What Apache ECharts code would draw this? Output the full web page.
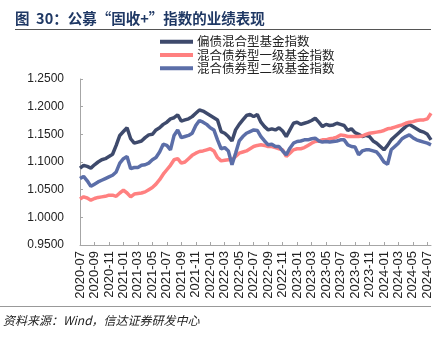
<!DOCTYPE html>
<html>
<head>
<meta charset="utf-8">
<script src="https://cdn.jsdelivr.net/npm/echarts@6/dist/echarts.min.js"></script>
<style>
html,body{margin:0;padding:0;background:#fff;}
#c{width:447px;height:337px;}
</style>
</head>
<body>
<div id="c"></div>
<script>
// Half-monthly observation dates (category axis)
const categories = [
"2020-07-01","2020-07-16","2020-08-01","2020-08-16","2020-09-01","2020-09-16","2020-10-01","2020-10-16",
"2020-11-01","2020-11-16","2020-12-01","2020-12-16","2021-01-01","2021-01-16","2021-02-01","2021-02-16",
"2021-03-01","2021-03-16","2021-04-01","2021-04-16","2021-05-01","2021-05-16","2021-06-01","2021-06-16",
"2021-07-01","2021-07-16","2021-08-01","2021-08-16","2021-09-01","2021-09-16","2021-10-01","2021-10-16",
"2021-11-01","2021-11-16","2021-12-01","2021-12-16","2022-01-01","2022-01-16","2022-02-01","2022-02-16",
"2022-03-01","2022-03-16","2022-04-01","2022-04-16","2022-05-01","2022-05-16","2022-06-01","2022-06-16",
"2022-07-01","2022-07-16","2022-08-01","2022-08-16","2022-09-01","2022-09-16","2022-10-01","2022-10-16",
"2022-11-01","2022-11-16","2022-12-01","2022-12-16","2023-01-01","2023-01-16","2023-02-01","2023-02-16",
"2023-03-01","2023-03-16","2023-04-01","2023-04-16","2023-05-01","2023-05-16","2023-06-01","2023-06-16",
"2023-07-01","2023-07-16","2023-08-01","2023-08-16","2023-09-01","2023-09-16","2023-10-01","2023-10-16",
"2023-11-01","2023-11-16","2023-12-01","2023-12-16","2024-01-01","2024-01-16","2024-02-01","2024-02-16",
"2024-03-01","2024-03-16","2024-04-01","2024-04-16","2024-05-01","2024-05-16","2024-06-01","2024-06-16",
"2024-07-01","2024-07-16"
];

const seriesNames = ["偏债混合型基金指数","混合债券型一级基金指数","混合债券型二级基金指数"];

const pianzhai = [
1.089,1.094,1.092,1.089,1.095,1.100,1.104,1.106,1.110,1.114,1.130,1.148,1.155,1.162,1.142,1.134,
1.136,1.138,1.144,1.149,1.150,1.158,1.162,1.168,1.172,1.178,1.180,1.185,1.174,1.176,1.178,1.182,
1.188,1.194,1.192,1.188,1.184,1.180,1.176,1.155,1.152,1.146,1.138,1.158,1.168,1.176,1.184,1.186,
1.182,1.186,1.172,1.164,1.158,1.160,1.158,1.162,1.156,1.146,1.158,1.170,1.172,1.168,1.170,1.172,
1.175,1.179,1.172,1.164,1.168,1.166,1.167,1.170,1.168,1.166,1.157,1.160,1.153,1.150,1.146,1.148,
1.146,1.138,1.134,1.128,1.122,1.130,1.140,1.146,1.152,1.158,1.164,1.168,1.164,1.160,1.156,1.154,
1.150,1.140
];

const yiji = [
1.033,1.037,1.035,1.031,1.034,1.036,1.037,1.038,1.040,1.040,1.038,1.044,1.049,1.044,1.037,1.042,
1.043,1.044,1.046,1.050,1.054,1.060,1.068,1.078,1.086,1.094,1.104,1.106,1.098,1.100,1.106,1.112,
1.116,1.119,1.120,1.122,1.124,1.120,1.108,1.102,1.103,1.104,1.104,1.110,1.116,1.118,1.120,1.124,
1.128,1.130,1.131,1.130,1.128,1.128,1.126,1.124,1.122,1.110,1.116,1.122,1.124,1.124,1.126,1.130,
1.134,1.137,1.138,1.140,1.140,1.142,1.143,1.145,1.149,1.148,1.146,1.146,1.146,1.146,1.147,1.150,
1.152,1.153,1.154,1.155,1.157,1.160,1.161,1.163,1.165,1.167,1.170,1.172,1.173,1.175,1.176,1.176,
1.178,1.188
];

const erji = [
1.070,1.074,1.066,1.056,1.060,1.064,1.067,1.070,1.073,1.076,1.082,1.098,1.106,1.110,1.088,1.090,
1.090,1.094,1.095,1.098,1.104,1.108,1.118,1.132,1.130,1.122,1.148,1.158,1.144,1.146,1.148,1.152,
1.166,1.175,1.172,1.168,1.162,1.158,1.140,1.124,1.126,1.120,1.095,1.116,1.138,1.146,1.152,1.155,
1.158,1.157,1.146,1.138,1.131,1.132,1.128,1.128,1.120,1.113,1.125,1.134,1.137,1.138,1.140,1.140,
1.142,1.143,1.138,1.136,1.137,1.136,1.137,1.138,1.140,1.140,1.131,1.128,1.127,1.113,1.120,1.122,
1.122,1.120,1.118,1.110,1.100,1.096,1.122,1.128,1.134,1.142,1.146,1.149,1.144,1.140,1.138,1.136,
1.134,1.131
];

const yTicks = [0.95, 1.00, 1.05, 1.10, 1.15, 1.20, 1.25];

const colors = ["#3e4a6c", "#ff8080", "#5b6ea8"];
const FONT = "'Liberation Sans', 'Noto Sans CJK SC', sans-serif";
const CJK = "'Noto Sans CJK SC', 'Liberation Sans', sans-serif";

const chart = echarts.init(document.getElementById('c'), null, {renderer: 'canvas'});
chart.setOption({
  animation: false,
  backgroundColor: '#fff',
  color: colors,
  grid: {left: 80, right: 16, top: 79, bottom: 92},
  legend: {
    orient: 'vertical',
    left: 155, top: 30,
    itemWidth: 33, itemHeight: 4, itemGap: 0,
    icon: 'rect',
    textStyle: {fontFamily: CJK, fontSize: 12.5, lineHeight: 13.3, color: '#222', padding: [0,0,0,-1]},
    data: seriesNames
  },
  xAxis: {
    type: 'category',
    data: categories,
    boundaryGap: false,
    axisLine: {lineStyle: {color: '#a6a6a6', width: 1}},
    axisTick: {inside: true, length: 3, interval: 3, lineStyle: {color: '#a6a6a6'}},
    axisLabel: {interval: 3, rotate: 90, fontFamily: FONT, fontSize: 13, color: '#222', margin: 6,
      formatter: v => v.slice(0, 7)},
    splitLine: {show: false}
  },
  yAxis: {
    type: 'value',
    min: yTicks[0], max: yTicks[yTicks.length - 1], interval: 0.05,
    axisLine: {show: true, lineStyle: {color: '#a6a6a6', width: 1}},
    axisTick: {show: true, inside: true, length: 3, lineStyle: {color: '#a6a6a6'}},
    axisLabel: {fontFamily: FONT, fontSize: 12, color: '#222', margin: 16,
      formatter: v => v.toFixed(4)},
    splitLine: {show: false}
  },
  series: [
    {name: seriesNames[0], type: 'line', data: pianzhai, showSymbol: false, lineStyle: {width: 3.5}},
    {name: seriesNames[1], type: 'line', data: yiji, showSymbol: false, lineStyle: {width: 3.5}},
    {name: seriesNames[2], type: 'line', data: erji, showSymbol: false, lineStyle: {width: 3.5}}
  ],
  graphic: [
    {type: 'text', left: 15, top: 11,
     style: {text: '图  30：公募“固收+”指数的业绩表现', fontFamily: CJK, fontSize: 14.5, fontWeight: 'bold', fill: '#1f3864'}},
    {type: 'line', shape: {x1: 15, y1: 29.5, x2: 431, y2: 29.5}, style: {stroke: '#555', lineWidth: 1}},
    {type: 'line', shape: {x1: 0, y1: 306.5, x2: 431, y2: 306.5}, style: {stroke: '#999', lineWidth: 1}},
    {type: 'text', left: 3, top: 314,
     style: {text: '资料来源：Wind，信达证券研发中心', fontFamily: CJK, fontSize: 12, fontStyle: 'italic', fill: '#222'}}
  ]
});
</script>
</body>
</html>
